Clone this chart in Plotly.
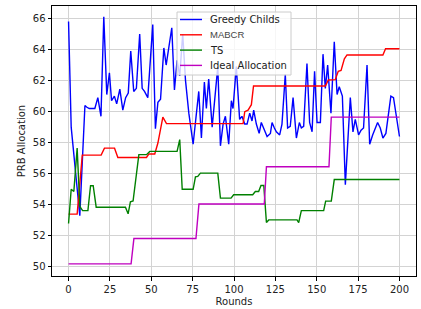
import plotly.graph_objects as go

# ---------------- data ----------------
greedy_x = [0, 1.6, 6.8, 9.9, 10.9, 12.5, 14.5, 15.9, 17.7, 19.6, 21.3, 23.1, 24.7, 26, 27.7, 29.1,
            31, 32.8, 34.5, 36.1, 37.6, 39.4, 41, 43, 44.5, 45.9, 47.9, 50.9, 52.5, 54, 55.6,
            57.6, 59, 60.6, 62.4, 64, 65.6, 67.2, 69, 70.7, 72.7, 75.3, 78.7, 80.3, 82.1, 83.3,
            84.7, 86.8, 88.6, 90.2, 91.8, 93.4, 94.8, 96.8, 98.4, 99.4, 101.4, 103.4, 104.8,
            106.5, 107.9, 109.5, 110.9, 111.9, 113.5, 115.2, 116.5, 118, 120, 122, 123, 124.4,
            125.6, 127.6, 129, 131, 132.4, 134, 135.7, 137.7, 139.5, 140.7, 142.1, 144.1, 145.7,
            147.2, 148.7, 150.2, 152.2, 153.8, 155.2, 156.6, 158.6, 160.6, 162.3, 163.6, 165.5,
            167.3, 168.7, 170.3, 171.9, 173.3, 175.3, 176.8, 178.3, 180.4, 182, 183.8, 186.8,
            188.4, 190, 191.8, 194.8, 196.4, 200]
greedy_y = [65.8, 59.0, 53.3, 60.4, 60.3, 60.2, 60.2, 60.2, 60.9, 59.7, 66.1, 61.1, 62.5, 60.7, 61.0, 60.5,
            61.45, 60.1, 60.9, 61.2, 63.9, 61.3, 61.5, 65.0, 61.5, 61.3, 60.9, 65.6, 58.9, 60.6, 60.8,
            64.1, 63.0, 64.0, 65.4, 61.4, 63.3, 62.3, 65.0, 62.0, 59.9, 57.9, 61.3, 58.3, 61.9, 60.2,
            62.1, 59.0, 60.9, 62.9, 57.8, 59.2, 59.7, 57.9, 60.7, 60.2, 62.9, 59.5, 59.7,
            59.2, 59.2, 59.9, 59.4, 60.1, 59.2, 58.6, 59.3, 58.95, 58.4, 58.6, 59.3, 58.95,
            58.7, 58.5, 59.2, 62.4, 58.95, 59.05, 60.9, 58.3, 59.3, 58.95, 59.05, 63.1, 59.3,
            58.7, 62.6, 59.3, 59.3, 63.7, 61.5, 63.0, 59.9, 64.5, 61.1, 61.6, 61.0,
            55.3, 58.0, 60.9, 58.7, 59.5, 58.5, 58.8, 58.95, 63.0, 57.9, 58.5, 59.3,
            58.95, 58.3, 58.6, 61.0, 60.9, 58.4]

mabcr_x = [0, 5.2, 8.3, 19.7, 21.7, 27.8, 29.8, 47.1, 48.5, 52.1, 54, 57, 59.2, 105.5, 106.5,
           108.5, 110.5, 111.8, 155.2, 157, 161.2, 163, 164.7, 166.7, 168.3, 190, 191.6, 200]
mabcr_y = [53.4, 53.4, 57.2, 57.2, 57.65, 57.65, 57.05, 57.05, 57.27, 57.27, 57.98, 59.65, 59.23, 59.23, 60.0,
           60.1, 60.45, 61.65, 61.65, 62.04, 62.06, 62.6, 62.65, 63.4, 63.65, 63.65, 64.05, 64.05]

ts_x = [0, 1.6, 3.2, 5.2, 6.8, 8.5, 11.7, 13.3, 14.9, 16.7, 34.4, 36, 37.4, 39, 42.5, 47.1, 49.1,
        65.6, 67.2, 68.7, 75.3, 76.7, 78.1, 79.7, 90.2, 91.8, 98.2, 99.8, 111.3, 112.9, 114.9,
        116.3, 118, 119.6, 121, 138.1, 139.1, 140.7, 154.2, 155.4, 158.8, 160.6, 200]
ts_y = [52.8, 55.0, 54.86, 57.65, 53.9, 53.63, 53.63, 55.23, 55.23, 53.85, 53.85, 53.42, 54.2, 54.25, 57.23, 57.23, 57.44,
        57.44, 58.2, 55.0, 55.0, 55.8, 55.83, 56.04, 56.04, 54.43, 54.43, 54.65, 54.65, 54.86, 54.86,
        55.25, 55.25, 52.86, 53.03, 53.03, 52.86, 53.63, 53.63, 54.24, 54.24, 55.63, 55.63]

ideal_x = [0, 37.8, 39.5, 77, 78.8, 118.3, 119.6, 157.4, 158.8, 200]
ideal_y = [50.2, 50.2, 51.83, 51.83, 54.05, 54.05, 56.45, 56.45, 59.65, 59.65]

series_names = ["Greedy Childs", "MABCR", "TS", "Ideal Allocation"]
series_colors = ["#0000ff", "#ff0000", "#008000", "#bf00bf"]

x_ticks = [0, 25, 50, 75, 100, 125, 150, 175, 200]
y_ticks = [50, 52, 54, 56, 58, 60, 62, 64, 66]

# ---------------- figure ----------------
FONT = "DejaVu Sans"
W, H = 421, 309
ML, MR, MT, MB = 52, 5, 6, 33
PW, PH = W - ML - MR, H - MT - MB


def px(xp):
    return (xp - ML) / PW


def py(yp):
    return (H - MB - yp) / PH


fig = go.Figure()
all_x = [greedy_x, mabcr_x, ts_x, ideal_x]
all_y = [greedy_y, mabcr_y, ts_y, ideal_y]
for name, xs, ys, col in zip(series_names, all_x, all_y, series_colors):
    fig.add_trace(go.Scatter(x=xs, y=ys, mode="lines", name=name,
                             line=dict(color=col, width=1.4), showlegend=False))

axis_common = dict(showline=True, linecolor="black", linewidth=1, mirror=True,
                   ticks="outside", ticklen=3.5, tickcolor="black", tickwidth=1,
                   showgrid=True, gridcolor="#d3d3d3", gridwidth=1.2, zeroline=False,
                   automargin=False,
                   tickfont=dict(family=FONT, size=10, color="#222"))

# legend drawn as a box with sample lines and labels
shapes = [dict(type="rect", xref="paper", yref="paper",
               x0=px(177), x1=px(291), y0=py(75), y1=py(12),
               fillcolor="rgba(255,255,255,0.8)", line=dict(color="#cccccc", width=1),
               layer="above")]
annotations = []
legend_rows = [19.5, 34.8, 50.1, 65.4]
for name, col, yy in zip(series_names, series_colors, legend_rows):
    shapes.append(dict(type="line", xref="paper", yref="paper",
                       x0=px(180), x1=px(202), y0=py(yy), y1=py(yy),
                       line=dict(color=col, width=1.4), layer="above"))
    fnt = dict(family=FONT, size=10, color="#222")
    if name == "MABCR":
        fnt = dict(family="Liberation Sans", size=9.5, color="#444")
    annotations.append(dict(xref="paper", yref="paper", x=px(208), y=py(yy),
                            xanchor="left", yanchor="middle", text=name,
                            showarrow=False, font=fnt))

fig.update_layout(
    width=W, height=H,
    margin=dict(l=ML, r=MR, t=MT, b=MB),
    paper_bgcolor="white", plot_bgcolor="white",
    font=dict(family=FONT, size=10, color="#222"),
    xaxis=dict(range=[-10, 210], tickvals=x_ticks,
               title=dict(text="Rounds", font=dict(family=FONT, size=10), standoff=4),
               **axis_common),
    yaxis=dict(range=[49.42, 66.8], tickvals=y_ticks,
               title=dict(text="PRB Allocation", font=dict(family=FONT, size=10), standoff=5),
               **axis_common),
    shapes=shapes,
    annotations=annotations,
    showlegend=False,
)

fig.write_html("out.html",
               config={"displayModeBar": False},
               post_script="document.body.style.margin='0';document.body.style.overflow='hidden';")
